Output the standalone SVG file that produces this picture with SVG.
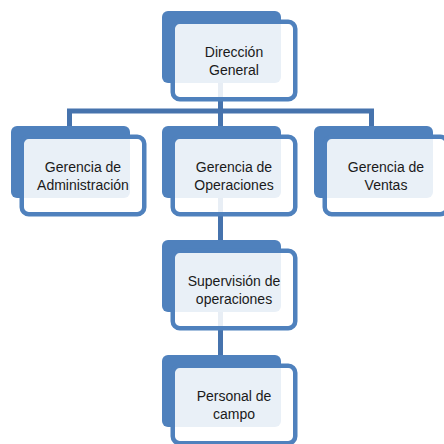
<svg xmlns="http://www.w3.org/2000/svg" width="444" height="444" viewBox="0 0 444 444">
<style>
.back{fill:#4f81bd}
.front{fill:#ffffff;fill-opacity:0.88;stroke:#4f81bd;stroke-width:4.5}
.conn{fill:none;stroke:#4673ad;stroke-width:5}
.lbl{font-family:"Liberation Sans",Arial,sans-serif;font-size:14px;fill:#1a1a1a;text-anchor:middle}
</style>
<rect width="444" height="444" fill="#ffffff"/>
<g id="connectors">
<path class="conn" d="M220.5,83 V111"/>
<path class="conn" d="M69.5,126 V111 H371.5 V126"/>
<path class="conn" d="M220.5,111 V126"/>
<path class="conn" d="M220.5,198 V240"/>
<path class="conn" d="M220.5,312 V355"/>
</g>
<g id="direccion-general">
<rect class="back" x="162" y="11" width="119" height="72" rx="6"/>
<rect class="front" x="172.75" y="21.75" width="122.5" height="77.5" rx="7"/>
<text class="lbl" x="234" y="57">Dirección</text>
<text class="lbl" x="234" y="75">General</text>
</g>
<g id="gerencia-administracion">
<rect class="back" x="11" y="126" width="119" height="72" rx="6"/>
<rect class="front" x="21.75" y="136.75" width="122.5" height="77.5" rx="7"/>
<text class="lbl" x="83" y="172">Gerencia de</text>
<text class="lbl" x="83" y="190">Administración</text>
</g>
<g id="gerencia-operaciones">
<rect class="back" x="162" y="126" width="119" height="72" rx="6"/>
<rect class="front" x="172.75" y="136.75" width="122.5" height="77.5" rx="7"/>
<text class="lbl" x="234" y="172">Gerencia de</text>
<text class="lbl" x="234" y="190">Operaciones</text>
</g>
<g id="gerencia-ventas">
<rect class="back" x="314" y="126" width="119" height="72" rx="6"/>
<rect class="front" x="324.75" y="136.75" width="122.5" height="77.5" rx="7"/>
<text class="lbl" x="386" y="172">Gerencia de</text>
<text class="lbl" x="386" y="190">Ventas</text>
</g>
<g id="supervision-operaciones">
<rect class="back" x="162" y="240" width="119" height="72" rx="6"/>
<rect class="front" x="172.75" y="250.75" width="122.5" height="77.5" rx="7"/>
<text class="lbl" x="234" y="286">Supervisión de</text>
<text class="lbl" x="234" y="304">operaciones</text>
</g>
<g id="personal-campo">
<rect class="back" x="162" y="355" width="119" height="72" rx="6"/>
<rect class="front" x="172.75" y="365.75" width="122.5" height="77.5" rx="7"/>
<text class="lbl" x="234" y="401">Personal de</text>
<text class="lbl" x="234" y="419">campo</text>
</g>
</svg>
